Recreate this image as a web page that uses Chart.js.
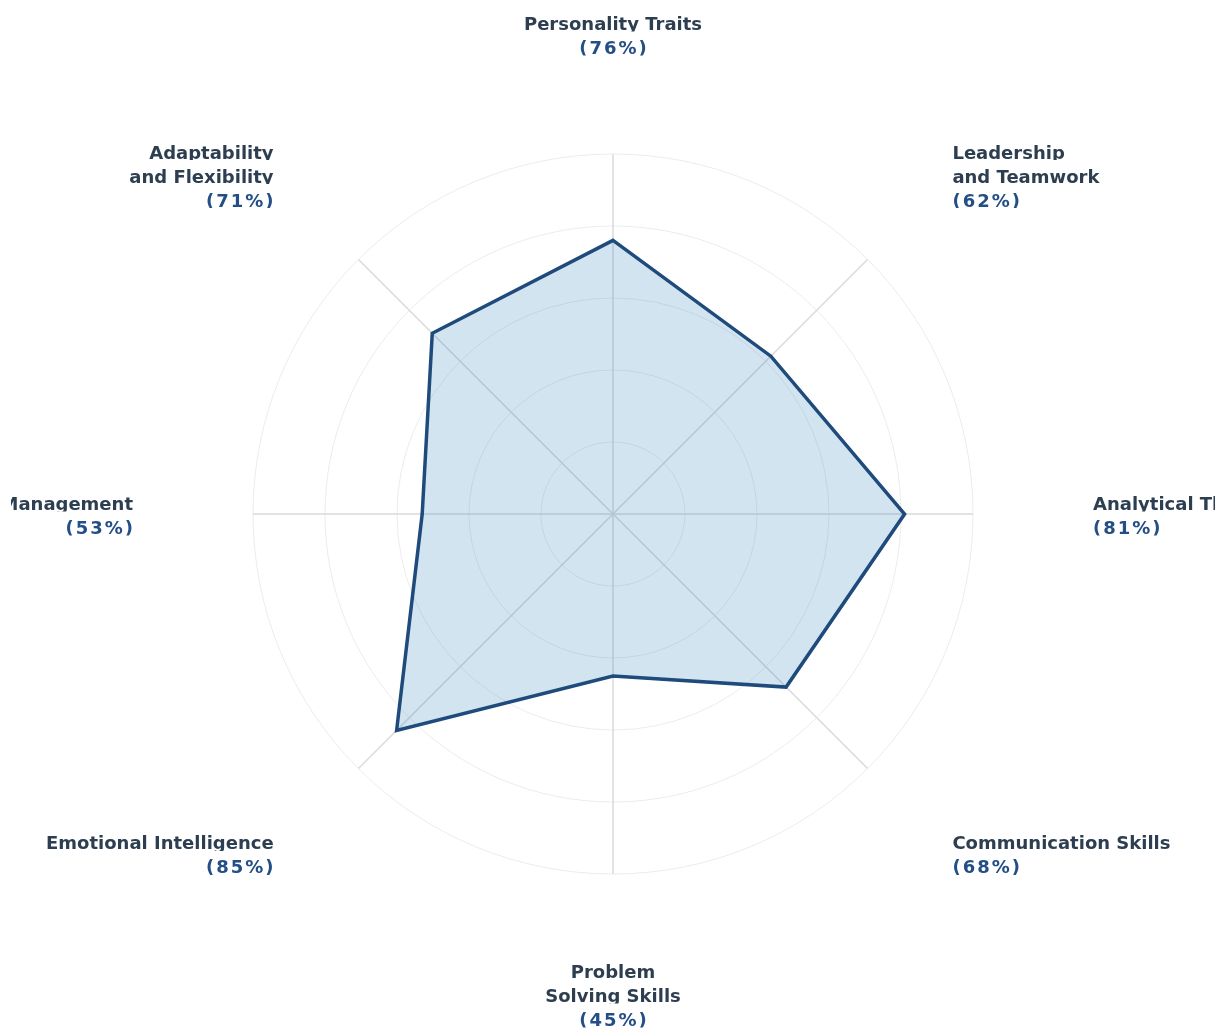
<!DOCTYPE html>
<html>
<head>
<meta charset="utf-8">
<script src="https://cdn.jsdelivr.net/npm/chart.js@4/dist/chart.umd.min.js"></script>
<style>
    html, body { margin: 0; padding: 0; background: #ffffff; }
    #wrap { position: relative; width: 1227px; height: 1033px; }
</style>
</head>
<body>
<div id="wrap"><canvas id="skillsRadar"></canvas></div>
<script>
// Skill assessment radar

const skillLabels = [
    ['Personality Traits'],
    ['Leadership', 'and Teamwork'],
    ['Analytical Thinking'],
    ['Communication Skills'],
    ['Problem', 'Solving Skills'],
    ['Emotional Intelligence'],
    ['Time Management'],
    ['Adaptability', 'and Flexibility']
];
const skillScores = [76, 62, 81, 68, 45, 85, 53, 71];
const scaleTicks = [0, 20, 40, 60, 80, 100];

// draws the two-colour labels round the outside of the radar
const outerLabels = {
    id: 'outerLabels',
    afterDraw(chart) {
        const scale = chart.scales.r;
        const ctx = chart.ctx;
        const dist = scale.drawingArea + 120;
        const lineH = 24;
        ctx.save();
        ctx.font = 'bold 18px "DejaVu Sans", Verdana, sans-serif';
        ctx.textBaseline = 'alphabetic';
        skillLabels.forEach(function (lines, i) {
            const pos = scale.getPointPosition(i, dist);
            const all = lines.concat(['(' + skillScores[i] + '%)']);
            const dx = pos.x - scale.xCenter;
            let align = 'center';
            if (dx > 5) align = 'left';
            else if (dx < -5) align = 'right';
            ctx.textAlign = align;
            all.forEach(function (txt, j) {
                const isPct = j === all.length - 1;
                const mid = pos.y + (j - (all.length - 1) / 2) * lineH;
                const base = mid + 8;
                let x = pos.x;
                ctx.save();
                ctx.beginPath();
                ctx.rect(11, mid - 20, 1204, base + 1.5 - (mid - 20));
                ctx.clip();
                if (isPct) {
                    ctx.letterSpacing = '2px';
                    if (align === 'right') x += 2;
                    if (align === 'center') x += 1;
                }
                ctx.fillStyle = isPct ? '#234e86' : '#2c3e50';
                ctx.fillText(txt, x, base);
                ctx.restore();
            });
        });
        ctx.restore();
    }
};

const canvas = document.getElementById('skillsRadar');
new Chart(canvas, {
    type: 'radar',
    data: {
        labels: skillLabels,
        datasets: [{
            label: 'Score',
            data: skillScores,
            borderColor: '#1f4a7c',
            backgroundColor: 'rgba(31, 119, 180, 0.2)',
            borderWidth: 3.5,
            pointRadius: 0,
            pointHoverRadius: 0,
            tension: 0
        }]
    },
    options: {
        responsive: true,
        maintainAspectRatio: false,
        animation: false,
        layout: { padding: { left: 253, right: 254, top: 154, bottom: 159 } },
        plugins: {
            legend: { display: false },
            tooltip: { enabled: false }
        },
        scales: {
            r: {
                min: scaleTicks[0],
                max: scaleTicks[scaleTicks.length - 1],
                ticks: { stepSize: scaleTicks[1] - scaleTicks[0], display: false },
                grid: { circular: true, color: '#ececec', lineWidth: 1 },
                angleLines: { color: '#dadada', lineWidth: 1.5 },
                pointLabels: { display: false }
            }
        }
    },
    plugins: [outerLabels]
});
</script>
</body>
</html>
